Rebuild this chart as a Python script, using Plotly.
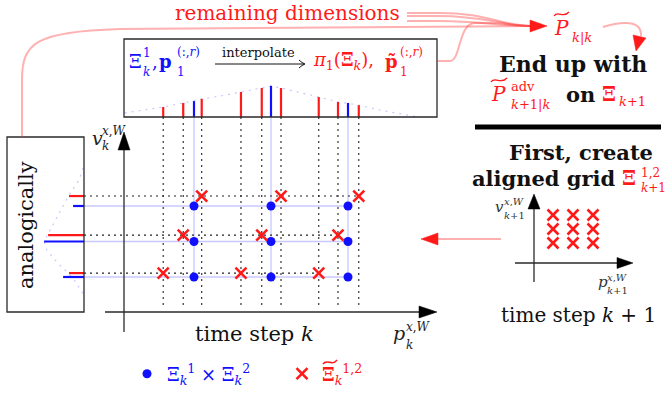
import plotly.graph_objects as go

# ---------------- data ----------------
p_grid = [1, 2, 3]                      # blue grid, position axis (Xi^1_k)
v_grid = [1, 2, 3]                      # blue grid, velocity axis (Xi^2_k)
v_red = [3.28, 2.18, 1.11]              # rows of red (interpolated) points
p_red = [[1.10, 2.13, 3.14],            # red points, row 1
         [0.86, 1.88, 2.87],            # row 2
         [0.60, 1.61, 2.62]]            # row 3
dens_p_red = [0.32, 0.45, 0.58, 0.80, 0.93, 0.93, 0.64, 0.48, 0.38]   # for sorted red p
dens_p_blue = [0.51, 1.00, 0.45]
curve_p = [0.10, 0.34, 0.60, 0.86, 1.10, 1.34, 1.61, 1.88, 2.00, 2.13, 2.38, 2.62, 2.88, 3.14, 3.42, 3.68, 3.91]
curve_p_dens = [0.13, 0.22, 0.32, 0.45, 0.58, 0.67, 0.80, 0.93, 0.99, 0.93, 0.77, 0.64, 0.48, 0.38, 0.22, 0.10, 0.0]
dens_v_red = [0.48, 1.15, 0.48]
dens_v_blue = [0.67, 1.28, 0.35]
curve_v = [4.07, 3.73, 3.31, 3.00, 2.61, 2.21, 2.01, 1.76, 1.42, 1.08, 0.97, 0.63, 0.49]
curve_v_dens = [0.03, 0.16, 0.48, 0.67, 0.93, 1.15, 1.28, 1.19, 0.87, 0.48, 0.35, 0.10, 0.0]
p_next = [1, 2, 3]
v_next = [1, 2, 3]

legend_blue = '<span style="color:#1010ff">Ξ<sub><i>k</i></sub><sup>1</sup> × Ξ<sub><i>k</i></sub><sup>2</sup></span>'
legend_red = '<span style="color:#ff1a1a"><b>Ξ</b><sub><i>k</i></sub><sup>1,2</sup></span>'

# ---------------- layout / scales ----------------
PW, PH = 670, 399          # browser window
OFF = 0                    # page body margin is removed below
W, H = PW - OFF, PH - OFF
SERIF = "DejaVu Serif"
RED = "#ff1a1a"
BLUE = "#1010ff"
LBLUE = "rgb(200,200,255)"
LRED = "rgba(255,60,60,0.40)"
AX = "#2a2a2a"

PX0, PXU = 117.0, 77.0      # main p axis: page pixel = PX0 + PXU*p
VY0, VYU = 312.5, 35.5      # main v axis: page pixel = VY0 - VYU*v
DY0, DU = 117.0, 31.2       # top-box density axis
DX0 = 84.0                  # left-box density axis (grows leftwards)
NX0, NXU = 533.0, 20.0      # next-step small panel
NY0, NYU = 257.0, 14.0

def p_of(px):
    return (px - PX0) / PXU

def v_of(py):
    return (VY0 - py) / VYU

fig = go.Figure()

# grid lines (main axes)
box_bottom_v = v_of(117)
left_p = p_of(84)
dot_bottom_v = v_of(305)
all_red_p = sorted([p for row in p_red for p in row])

xs, ys = [], []
for p in p_grid:
    xs += [p, p, None]; ys += [box_bottom_v, min(v_grid), None]
for v in v_grid:
    xs += [left_p, max(p_grid), None]; ys += [v, v, None]
fig.add_trace(go.Scatter(x=xs, y=ys, mode="lines", line=dict(color=LBLUE, width=1.3),
                         hoverinfo="skip", showlegend=False))
xs, ys = [], []
for p in all_red_p:
    xs += [p, p, None]; ys += [box_bottom_v, dot_bottom_v, None]
for v, row in zip(v_red, p_red):
    xs += [left_p, max(row), None]; ys += [v, v, None]
fig.add_trace(go.Scatter(x=xs, y=ys, mode="lines", line=dict(color="#222", width=1.1, dash="2px,4px"),
                         hoverinfo="skip", showlegend=False))

# top box: marginal in p
fig.add_trace(go.Scatter(x=curve_p, y=curve_p_dens, xaxis="x", yaxis="y2", mode="lines",
                         line=dict(color=LBLUE, width=1.2, dash="2px,5px"), hoverinfo="skip", showlegend=False))
xs, ys = [], []
for p, d in zip(all_red_p, dens_p_red):
    xs += [p, p, None]; ys += [0, d, None]
fig.add_trace(go.Scatter(x=xs, y=ys, xaxis="x", yaxis="y2", mode="lines", line=dict(color=RED, width=2.2),
                         hoverinfo="skip", showlegend=False))
xs, ys = [], []
for p, d in zip(p_grid, dens_p_blue):
    xs += [p, p, None]; ys += [0, d, None]
fig.add_trace(go.Scatter(x=xs, y=ys, xaxis="x", yaxis="y2", mode="lines", line=dict(color=BLUE, width=2.2),
                         hoverinfo="skip", showlegend=False))

# left box: marginal in v
fig.add_trace(go.Scatter(x=curve_v_dens, y=curve_v, xaxis="x3", yaxis="y", mode="lines",
                         line=dict(color=LBLUE, width=1.2, dash="2px,5px"), hoverinfo="skip", showlegend=False))
xs, ys = [], []
for v, d in zip(v_red, dens_v_red):
    xs += [0, d, None]; ys += [v, v, None]
fig.add_trace(go.Scatter(x=xs, y=ys, xaxis="x3", yaxis="y", mode="lines", line=dict(color=RED, width=2.2),
                         hoverinfo="skip", showlegend=False))
xs, ys = [], []
for v, d in zip(v_grid, dens_v_blue):
    xs += [0, d, None]; ys += [v, v, None]
fig.add_trace(go.Scatter(x=xs, y=ys, xaxis="x3", yaxis="y", mode="lines", line=dict(color=BLUE, width=2.2),
                         hoverinfo="skip", showlegend=False))

# points
bx = [p for v in v_grid for p in p_grid]
by = [v for v in v_grid for p in p_grid]
fig.add_trace(go.Scatter(x=bx, y=by, mode="markers", name=legend_blue,
                         marker=dict(color=BLUE, size=9)))
rx = [p for row in p_red for p in row]
ry = [v for v, row in zip(v_red, p_red) for p in row]
fig.add_trace(go.Scatter(x=rx, y=ry, mode="markers", name=legend_red,
                         marker=dict(symbol="x-thin", size=11, line=dict(color=RED, width=2.6))))
nx = [p for v in v_next for p in p_next]
ny = [v for v in v_next for p in p_next]
fig.add_trace(go.Scatter(x=nx, y=ny, xaxis="x4", yaxis="y4", mode="markers", showlegend=False,
                         marker=dict(symbol="x-thin", size=11, line=dict(color=RED, width=2.6))))

# ---------------- decorations (page-pixel space x5/y5) ----------------
shapes = []
def line(x0, y0, x1, y1, color=AX, width=1.3):
    shapes.append(dict(type="line", xref="x5", yref="y5", x0=x0, y0=y0, x1=x1, y1=y1,
                       line=dict(color=color, width=width)))
def path(d, color=AX, width=1.3, fill=None):
    s = dict(type="path", xref="x5", yref="y5", path=d, line=dict(color=color, width=width))
    if fill:
        s["fillcolor"] = fill
        s["line"] = dict(color=fill, width=0.5)
    shapes.append(s)
def rect(x0, y0, x1, y1):
    shapes.append(dict(type="rect", xref="x5", yref="y5", x0=x0, y0=y0, x1=x1, y1=y1,
                       line=dict(color=AX, width=1.3)))

rect(124, 39, 437, 117)
rect(7, 137, 84, 312)
# main axes
line(124, 148, 124, 332)
path("M 124 132 L 118 150 L 130 150 Z", fill="#000")
line(105, 312, 422, 312)
path("M 437 312 L 419 306 L 419 318 Z", fill="#000")
# small axes
line(534, 206, 534, 282)
path("M 534 194 L 528 209 L 540 209 Z", fill="#000")
line(515, 263, 620, 263)
path("M 633 263 L 617 257.5 L 617 268.5 Z", fill="#000")
# thick separator
line(475, 127, 661, 127, color="#000", width=5)
# interpolate arrow
line(215, 64, 304, 64, color="#111", width=1)
path("M 299 60 Q 302 63 305 64 Q 302 65 299 68", color="#111", width=1)
# red connectors
path("M 22 137 L 22 80 C 22 42 36 32 120 29 L 531 26", color=LRED, width=2)
path("M 407 13 L 440 13 C 485 13 500 25 531 26", color=LRED, width=2)
path("M 407 16 L 440 16 C 482 16 500 25 531 26", color=LRED, width=2)
path("M 407 21 L 440 21 C 478 21 500 26 531 26", color=LRED, width=2)
path("M 437 61 L 450 61 C 461 61 458 23 475 23 L 490 23 C 505 23 515 26 531 26", color=LRED, width=2)
path("M 547 26 L 530 20 L 530 32 Z", fill=RED)
path("M 603 27 C 622 21 642 20 641 36", color=LRED, width=2)
path("M 636 51 L 633 35 L 646 38 Z", fill=RED)
path("M 501 239 L 435 239", color=LRED, width=2)
path("M 421 239 L 438 233 L 438 245 Z", fill=RED)
# wide tildes
path("M 554 16 C 558 10 563 19 569 12", color=RED, width=1.3)
path("M 491 82 C 495 76 501 85 507 78", color=RED, width=1.3)
path("M 323 364 C 327 358 332 367 337 360", color=RED, width=1.5)

# ---------------- text ----------------
ann = []
def T(x, y, s, size=20, color="#111", xa="center", ya="middle", angle=0):
    ann.append(dict(x=x, y=y, xref="x5", yref="y5", text=s, showarrow=False, xanchor=xa, yanchor=ya,
                    textangle=angle, font=dict(family=SERIF, size=size, color=color)))

T(287, 13, "remaining dimensions", 20, RED)
# top box
T(127, 61, "Ξ", 18, BLUE, "left")
T(141, 53, "1", 12, BLUE, "left")
T(141, 72, "<i>k</i>", 12, BLUE, "left")
T(150, 61, ",", 18, BLUE, "left")
T(157, 61, "<b>p</b>", 18, BLUE, "left")
T(175, 52, "(:,<i>r</i>)", 12, BLUE, "left")
T(175, 72, "1", 12, BLUE, "left")
T(258, 52, "interpolate", 13, "#111")
T(311, 61, "<i>π</i><sub>1</sub>(<b>Ξ</b><sub><i>k</i></sub>),", 18, RED, "left")
T(383, 61, "<b>p̃</b>", 18, RED, "left")
T(398, 52, "(:,<i>r</i>)", 12, RED, "left")
T(398, 72, "1", 12, RED, "left")
# left box
T(26, 225, "analogically", 21, "#111", angle=-90)
# main axes labels
T(90, 138, "<i>v</i>", 19, "#222", "left")
T(100, 131, "<i>x</i>,<i>W</i>", 12, "#222", "left")
T(100, 146, "<i>k</i>", 12, "#222", "left")
T(391, 333, "<i>p</i>", 19, "#222", "left")
T(404, 327, "<i>x</i>,<i>W</i>", 12, "#222", "left")
T(404, 345, "<i>k</i>", 12, "#222", "left")
T(254, 334, "time step <i>k</i>", 21, "#111")
# right panel
T(552, 28, "<i>P</i>", 20, RED, "left")
T(570, 37, "<i>k</i>|<i>k</i>", 13, RED, "left")
T(573, 64, "<b>End up with</b>", 22, "#111")
T(489, 94, "<i>P</i>", 20, RED, "left")
T(509, 86, "adv", 13, RED, "left")
T(509, 104, "<i>k</i>+1|<i>k</i>", 13, RED, "left")
T(564, 94, "<b>on</b>", 21, "#111", "left")
T(600, 94, "<b>Ξ</b>", 20, RED, "left")
T(617, 101, "<i>k</i>+1", 13, RED, "left")
T(581, 152, "<b>First, create</b>", 21, "#111")
T(470, 178, "<b>aligned grid</b>", 21, "#111", "left")
T(620, 178, "<b>Ξ</b>", 20, RED, "left")
T(639, 173, "1,2", 12, RED, "left")
T(639, 188, "<i>k</i>+1", 12, RED, "left")
T(493, 207, "<i>v</i>", 15, "#333", "left")
T(502, 201, "<i>x</i>,<i>W</i>", 10, "#333", "left")
T(502, 215, "<i>k</i>+1", 10, "#333", "left")
T(596, 282, "<i>p</i>", 15, "#333", "left")
T(605, 277, "<i>x</i>,<i>W</i>", 10, "#333", "left")
T(605, 290, "<i>k</i>+1", 10, "#333", "left")
T(578, 315, "time step <i>k</i> + 1", 20, "#111")

hidden = dict(visible=False, showgrid=False, zeroline=False, fixedrange=True)
fig.update_layout(
    width=W, height=H, autosize=False,
    margin=dict(l=0, r=0, t=0, b=0, pad=0),
    paper_bgcolor="white", plot_bgcolor="white",
    hovermode=False,
    xaxis=dict(range=[p_of(OFF), p_of(PW)], domain=[0, 1], anchor="y", **hidden),
    yaxis=dict(range=[v_of(PH), v_of(OFF)], domain=[0, 1], anchor="x", **hidden),
    yaxis2=dict(range=[(DY0 - PH) / DU, (DY0 - OFF) / DU], overlaying="y", anchor="x", **hidden),
    xaxis3=dict(range=[(DX0 - OFF) / DU, (DX0 - PW) / DU], overlaying="x", anchor="y", **hidden),
    xaxis4=dict(range=[(OFF - NX0) / NXU, (PW - NX0) / NXU], overlaying="x", anchor="y4", **hidden),
    yaxis4=dict(range=[(NY0 - PH) / NYU, (NY0 - OFF) / NYU], overlaying="y", anchor="x4", **hidden),
    xaxis5=dict(range=[OFF, PW], overlaying="x", anchor="y5", **hidden),
    yaxis5=dict(range=[PH, OFF], overlaying="y", anchor="x5", **hidden),
    shapes=shapes, annotations=ann,
    showlegend=True,
    legend=dict(orientation="h", x=(127 - OFF) / W, y=1 - (374 - OFF) / H, xanchor="left", yanchor="middle",
                font=dict(family=SERIF, size=18, color=BLUE), bgcolor="rgba(0,0,0,0)",
                itemwidth=30, tracegroupgap=0, entrywidth=110, entrywidthmode="pixels"),
)
fig.write_html("out.html", config={"displayModeBar": False, "staticPlot": True},
               post_script="document.body.style.margin='0px';document.body.style.overflow='hidden';")
